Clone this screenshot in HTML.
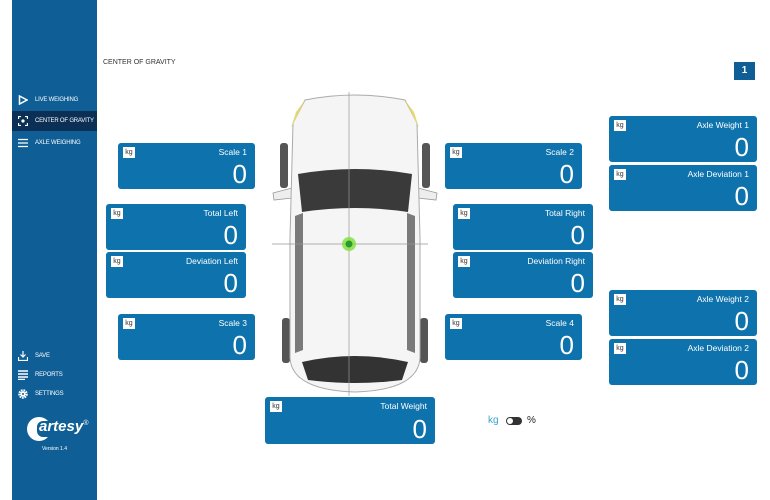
<!DOCTYPE html>
<html><head><meta charset="utf-8"><style>
*{margin:0;padding:0;box-sizing:border-box}
body{width:770px;height:500px;background:#fff;position:relative;overflow:hidden;font-family:"Liberation Sans",sans-serif}
#sb{position:absolute;left:12px;top:0;width:85px;height:500px;background:#0f5f96}
.nav{position:absolute;left:0;width:85px;height:20px;color:#fff;font-size:6px;letter-spacing:-0.2px;line-height:20px;padding-left:23px;white-space:nowrap;overflow:hidden}
.nav.act{background:#0b2f55}
.ic{position:absolute;left:6px;top:5px;width:10px;height:10px}
.b{position:absolute;background:#0e72ad;border-radius:3px;color:#fff}
.b .k{position:absolute;left:5px;top:4px;width:12px;height:11px;background:#fff;color:#333;font-size:7px;line-height:11px;text-align:center}
.b .t{position:absolute;right:8px;top:4px;font-size:8.5px}
.b .v{position:absolute;right:8px;bottom:1px;font-size:26px;line-height:28px}
</style></head><body>
<div id="sb">
 <div class="nav" style="top:90px"><svg class="ic" viewBox="0 0 10 10"><path d="M1.5 1 L9 5 L1.5 9 Z" fill="none" stroke="#fff" stroke-width="1.5"/></svg>LIVE WEIGHING</div>
 <div class="nav act" style="top:111px"><svg class="ic" viewBox="0 0 10 10"><path d="M0.5 3V0.5H3M7 0.5H9.5V3M9.5 7V9.5H7M3 9.5H0.5V7" fill="none" stroke="#fff" stroke-width="1.2"/><circle cx="5" cy="5" r="1.6" fill="#fff"/></svg>CENTER OF GRAVITY</div>
 <div class="nav" style="top:133px"><svg class="ic" viewBox="0 0 10 10"><path d="M0 1.5H10M0 5H10M0 8.5H10" stroke="#fff" stroke-width="1.3"/></svg>AXLE WEIGHING</div>
 <div class="nav" style="top:346px"><svg class="ic" viewBox="0 0 10 10"><path d="M5 0V6M2.5 3.5L5 6L7.5 3.5M0.5 6V9.5H9.5V6" fill="none" stroke="#fff" stroke-width="1.2"/></svg>SAVE</div>
 <div class="nav" style="top:365px"><svg class="ic" viewBox="0 0 10 10"><path d="M0 1H10M0 4H10M0 7H10M0 9.5H7" stroke="#fff" stroke-width="1.4"/></svg>REPORTS</div>
 <div class="nav" style="top:384px"><svg class="ic" viewBox="0 0 10 10"><circle cx="5" cy="5" r="3.5" fill="none" stroke="#fff" stroke-width="2.5" stroke-dasharray="1.6 0.8"/><circle cx="5" cy="5" r="2.5" fill="#fff"/><circle cx="5" cy="5" r="1" fill="#0f5f96"/></svg>SETTINGS</div>
 <div style="position:absolute;left:15px;top:417px;width:24px;height:24px;border-radius:50%;background:#fff"></div>
 <div style="position:absolute;left:25px;top:421px;width:14px;height:16px;background:#0f5f96;border-radius:6px 0 0 6px"></div>
 <div style="position:absolute;left:27px;top:418px;color:#fff;font-size:15px;font-weight:bold;font-style:italic">artesy<sup style="font-size:7px;font-weight:normal">®</sup></div>
 <div style="position:absolute;left:0;width:85px;top:446px;text-align:center;color:#fff;font-size:5px">Version 1.4</div>
</div>
<div style="position:absolute;left:103px;top:59px;font-size:7px;color:#333">CENTER OF GRAVITY</div>
<div style="position:absolute;left:734px;top:62px;width:21px;height:18px;background:#0f5f96;color:#fff;font-size:10px;font-weight:bold;text-align:center;line-height:18px">1</div>

<svg style="position:absolute;left:270px;top:88px" width="170" height="310" viewBox="0 0 170 310">
 <rect x="10" y="55" width="8" height="45" rx="3" fill="#555"/><rect x="152" y="55" width="8" height="45" rx="3" fill="#555"/>
 <rect x="12" y="230" width="8" height="45" rx="3" fill="#555"/><rect x="150" y="230" width="8" height="45" rx="3" fill="#555"/>
 <path d="M3 105 L22 100 L22 110 L4 112Z M167 105 L148 100 L148 110 L166 112Z" fill="#eee" stroke="#999" stroke-width="0.8"/>
 <path d="M35 12 Q85 2 135 12 L147 35 L150 150 L150 270 Q148 302 85 304 Q22 302 20 270 L20 150 L23 35 Z" fill="#f5f5f5" stroke="#aaa" stroke-width="1"/>
 <path d="M21 40 L35 12 L26 24Z M149 40 L135 12 L144 24Z" fill="#e6d870"/>
 <path d="M28 86 Q85 76 142 86 L138 124 Q85 116 32 124 Z" fill="#3a3a3a"/>
 <path d="M25 128 L33 125 L33 262 L25 265Z M145 128 L137 125 L137 262 L145 265Z" fill="#7a7a7a"/>
 <path d="M32 274 Q85 262 138 274 L132 292 Q85 298 38 292Z" fill="#333"/>
 <line x1="79" y1="4" x2="79" y2="308" stroke="#999" stroke-width="0.7"/>
 <line x1="2" y1="156" x2="158" y2="156" stroke="#999" stroke-width="0.7"/>
 <circle cx="79" cy="156" r="7" fill="#7ee03a" opacity="0.8"/><circle cx="79" cy="156" r="3.5" fill="#2a9a2a"/>
</svg>

<div class="b" style="left:118px;top:143px;width:137px;height:46px"><div class="k">kg</div><div class="t">Scale 1</div><div class="v">0</div></div>
<div class="b" style="left:445px;top:143px;width:137px;height:46px"><div class="k">kg</div><div class="t">Scale 2</div><div class="v">0</div></div>
<div class="b" style="left:106px;top:204px;width:140px;height:46px"><div class="k">kg</div><div class="t">Total Left</div><div class="v">0</div></div>
<div class="b" style="left:106px;top:252px;width:140px;height:46px"><div class="k">kg</div><div class="t">Deviation Left</div><div class="v">0</div></div>
<div class="b" style="left:453px;top:204px;width:140px;height:46px"><div class="k">kg</div><div class="t">Total Right</div><div class="v">0</div></div>
<div class="b" style="left:453px;top:252px;width:140px;height:46px"><div class="k">kg</div><div class="t">Deviation Right</div><div class="v">0</div></div>
<div class="b" style="left:118px;top:314px;width:137px;height:46px"><div class="k">kg</div><div class="t">Scale 3</div><div class="v">0</div></div>
<div class="b" style="left:445px;top:314px;width:137px;height:46px"><div class="k">kg</div><div class="t">Scale 4</div><div class="v">0</div></div>
<div class="b" style="left:609px;top:116px;width:148px;height:46px"><div class="k">kg</div><div class="t">Axle Weight 1</div><div class="v">0</div></div>
<div class="b" style="left:609px;top:165px;width:148px;height:46px"><div class="k">kg</div><div class="t">Axle Deviation 1</div><div class="v">0</div></div>
<div class="b" style="left:609px;top:290px;width:148px;height:46px"><div class="k">kg</div><div class="t">Axle Weight 2</div><div class="v">0</div></div>
<div class="b" style="left:609px;top:339px;width:148px;height:46px"><div class="k">kg</div><div class="t">Axle Deviation 2</div><div class="v">0</div></div>
<div class="b" style="left:265px;top:397px;width:170px;height:47px"><div class="k">kg</div><div class="t">Total Weight</div><div class="v">0</div></div>

<div style="position:absolute;left:488px;top:415px;font-size:10px;color:#3aa0d0">kg</div>
<div style="position:absolute;left:506px;top:417px;width:16px;height:8px;border-radius:4px;background:#333"></div>
<div style="position:absolute;left:507px;top:418px;width:6px;height:6px;border-radius:3px;background:#fff"></div>
<div style="position:absolute;left:527px;top:415px;font-size:10px;color:#222">%</div>
</body></html>
